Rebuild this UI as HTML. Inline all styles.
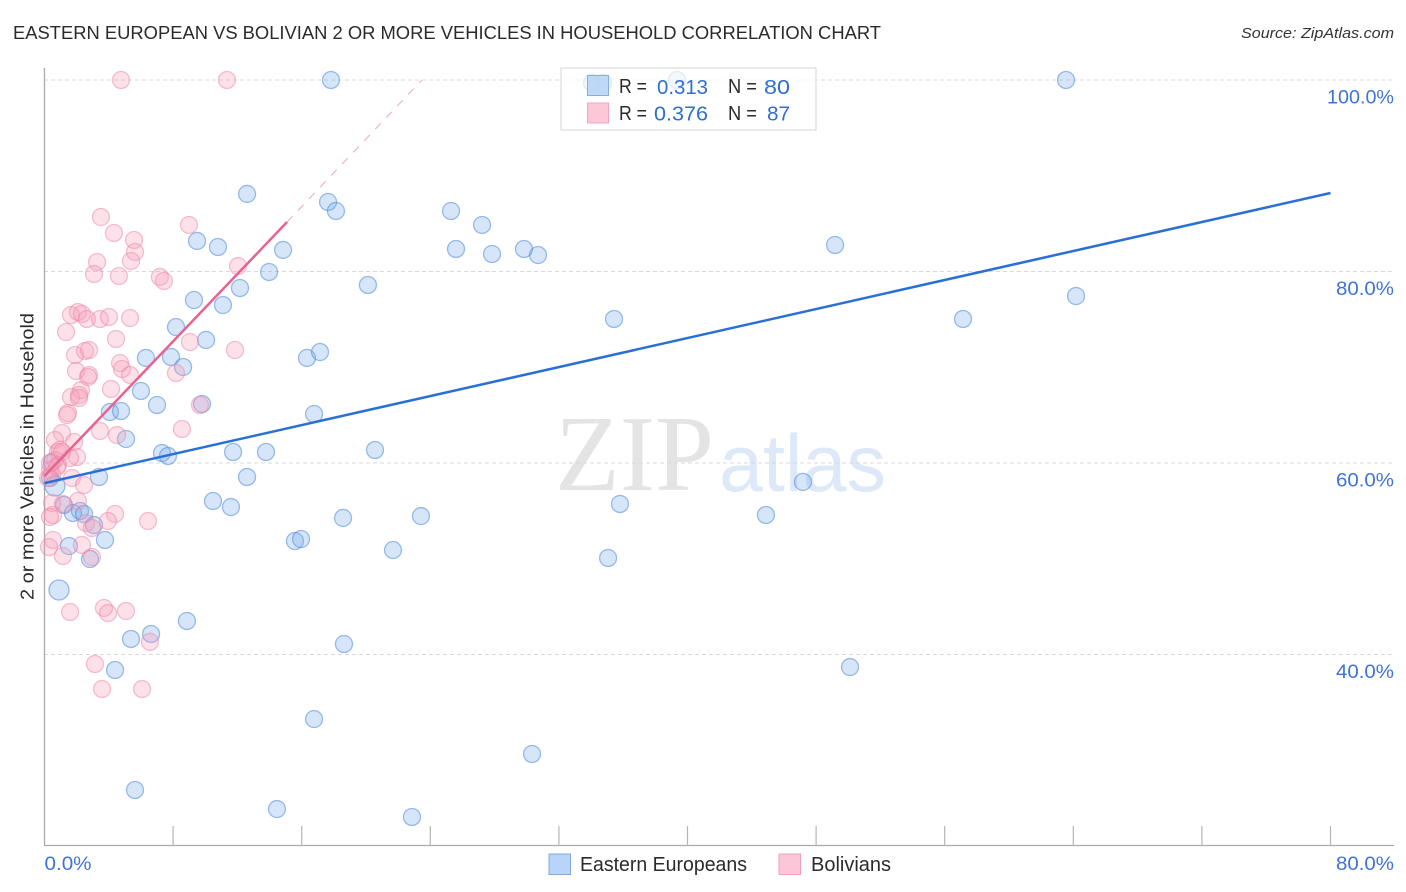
<!DOCTYPE html>
<html lang="en">
<head>
<meta charset="utf-8">
<title>Eastern European vs Bolivian 2 or more Vehicles in Household Correlation Chart</title>
<style>
html,body{margin:0;padding:0;background:#fff;width:1406px;height:892px;overflow:hidden}
svg{display:block;font-family:"Liberation Sans",sans-serif}
.tick{fill:#3f74d6;font-size:19px}
.leg{fill:#2b2b2b;font-size:20px}
.val{fill:#2f6ed2;font-size:20.5px}
</style>
</head>
<body>
<svg id="chart" width="1406" height="892" viewBox="0 0 1406 892" xmlns="http://www.w3.org/2000/svg">
  <text x="13" y="39" font-size="18.5" fill="#2b2b2b" textLength="868" lengthAdjust="spacingAndGlyphs">EASTERN EUROPEAN VS BOLIVIAN 2 OR MORE VEHICLES IN HOUSEHOLD CORRELATION CHART</text>
  <text x="1241" y="38" font-size="15" font-style="italic" fill="#333" textLength="153" lengthAdjust="spacingAndGlyphs">Source: ZipAtlas.com</text>

  <g>
    <text x="555" y="490" font-family="'Liberation Serif',serif" font-size="108" fill="#e4e4e4" textLength="159" lengthAdjust="spacingAndGlyphs">ZIP</text>
    <text x="719" y="491" font-size="81" fill="#dde8f8" textLength="167" lengthAdjust="spacingAndGlyphs">atlas</text>
  </g>

  <g id="grid"></g>
  <g id="axes">
    <line x1="44.5" y1="68" x2="44.5" y2="846" stroke="#aaa" stroke-width="1.3"/>
    <line x1="44" y1="845.5" x2="1394" y2="845.5" stroke="#aaa" stroke-width="1.3"/>
  </g>
  <g id="xticks"></g>
  <g id="points-blue"></g>
  <g id="points-pink"></g>
  <g id="trends"></g>
  <g id="ylabels"></g>
  <g id="xlabels"></g>

  <text transform="translate(33.5,600) rotate(-90)" font-size="18.5" fill="#2b2b2b" textLength="287" lengthAdjust="spacingAndGlyphs">2 or more Vehicles in Household</text>

  <g>
    <rect x="561" y="68" width="255" height="62" fill="#fff" fill-opacity="0.7" stroke="#ddd" stroke-width="1.2"/>
    <rect x="587.5" y="75.5" width="21" height="20" fill="#b5d2f6" fill-opacity="0.85" stroke="#86aee6"/>
    <rect x="587.5" y="103" width="21" height="20" fill="#fcc8d8" stroke="#f2a5bd"/>
    <text class="leg" x="619" y="93" textLength="28" lengthAdjust="spacingAndGlyphs">R =</text>
    <text class="val" x="657" y="94" textLength="51" lengthAdjust="spacingAndGlyphs">0.313</text>
    <text class="leg" x="728" y="93" textLength="29" lengthAdjust="spacingAndGlyphs">N =</text>
    <text class="val" x="764" y="94" textLength="26" lengthAdjust="spacingAndGlyphs">80</text>
    <text class="leg" x="619" y="120" textLength="28" lengthAdjust="spacingAndGlyphs">R =</text>
    <text class="val" x="654" y="120.5" textLength="54" lengthAdjust="spacingAndGlyphs">0.376</text>
    <text class="leg" x="728" y="120" textLength="29" lengthAdjust="spacingAndGlyphs">N =</text>
    <text class="val" x="767" y="120.5" textLength="23" lengthAdjust="spacingAndGlyphs">87</text>
  </g>

  <g>
    <rect x="549" y="854" width="21.5" height="20.5" fill="#b8d4f8" stroke="#7ea9e0"/>
    <text x="580" y="871" font-size="20" fill="#2b2b2b" textLength="167" lengthAdjust="spacingAndGlyphs">Eastern Europeans</text>
    <rect x="779" y="854" width="21.5" height="20.5" fill="#fdc6d8" stroke="#f0a2ba"/>
    <text x="811" y="871" font-size="20" fill="#2b2b2b" textLength="80" lengthAdjust="spacingAndGlyphs">Bolivians</text>
  </g>
</svg>
<script>
var blueX = [17.82,34.06,34.74,39.35,63.55,12.6,17.64,18.13,25.29,27.22,9.49,10.79,14.84,25.6,27.84,29.83,30.7,49.18,13.97,12.16,20.12,9.3,11.1,64.17,35.43,57.14,8.18,10.05,6.31,7.87,8.62,16.33,17.14,6.0,7.0,9.8,4.07,4.76,16.77,5.07,7.31,7.68,11.73,13.78,20.56,3.39,12.6,47.18,10.48,11.6,35.8,1.21,1.77,2.21,2.46,3.08,18.57,23.42,44.88,3.76,15.58,15.96,1.52,21.68,2.83,35.06,8.86,6.63,5.38,18.63,4.39,50.11,16.77,30.33,5.63,14.46,22.86,0.34,0.47];
var blueY = [100,99.7,99.7,100,100,88.1,87.26,86.32,86.32,84.86,83.19,82.56,82.25,82.35,81.83,82.35,81.72,82.77,79.95,78.28,78.59,77.02,76.5,77.44,75.04,75.04,74.2,72.85,70.97,71.07,70.03,70.97,71.59,67.52,66.06,66.16,65.33,65.43,65.12,62.51,61.04,60.73,61.15,61.15,61.36,58.54,58.54,58.02,56.03,55.4,55.72,55.61,54.78,54.99,54.67,53.52,54.26,54.46,54.57,51.96,51.85,52.06,51.33,50.91,49.97,50.08,43.5,42.14,41.62,41.1,38.38,38.69,33.26,29.61,25.85,23.86,23.03,58.43,60.1];
var blueLargeX = [0.9,0.65];
var blueLargeY = [46.74,57.6];
var pinkX = [4.76,11.35,3.51,8.99,4.32,5.57,5.63,5.38,3.27,3.08,4.63,12.04,7.18,7.43,1.65,2.08,2.33,2.64,3.45,4.01,5.32,1.34,4.45,9.05,11.85,1.9,2.52,2.77,4.7,4.82,5.32,1.96,2.77,2.71,4.14,8.18,2.27,1.65,2.15,2.15,9.67,1.46,1.4,3.45,4.51,8.55,1.09,0.65,1.84,0.84,2.02,1.59,0.96,1.09,0.65,0.84,0.34,0.47,0.22,0.78,0.34,1.71,2.46,2.08,1.15,0.47,0.53,0.34,4.39,6.44,3.95,2.58,2.95,0.53,0.28,2.33,1.15,2.95,3.7,3.95,5.07,1.59,3.14,3.58,6.07,6.56];
var pinkY = [100,100,85.69,84.86,84.02,83.29,82.04,81.1,80.99,79.74,79.53,80.57,79.43,79.01,75.46,75.77,75.56,75.04,75.04,75.25,75.14,73.68,72.95,72.64,71.8,71.28,71.7,71.8,70.44,69.82,69.19,69.61,69.19,68.98,67.73,69.4,67.62,66.89,67.1,66.79,66.06,65.22,65.01,63.34,62.92,63.55,63.13,62.4,62.19,61.15,60.63,60.52,61.36,61.15,60.31,59.79,59.27,58.75,58.43,59.58,60,58.43,57.7,56.03,55.72,55.82,54.57,54.36,54.67,53.94,53.94,53.73,53.21,51.96,51.23,51.44,50.29,50.18,44.86,44.33,44.54,44.44,39.01,36.4,36.4,41.31];
var blueTrendX = [0,80];
var blueTrendY = [57.9,88.2];
var pinkTrendX = [0,15.09];
var pinkTrendY = [58.64,85.17];
var pinkDashX = [15.09,23.48];
var pinkDashY = [85.17,100];
var gridValues = [100,80,60,40];
var yTickLabels = ["100.0%","80.0%","60.0%","40.0%"];
var xTickValues = [8,16,24,32,40,48,56,64,72,80];
var xEndValues = [0,80];
var xEndLabels = ["0.0%","80.0%"];

function sx(v){ return 44.5 + v * 16.075; }
function sy(v){ return 80 + (100 - v) * 9.575; }
var NS = 'http://www.w3.org/2000/svg';
function mk(tag, parentId, attrs){
  var el = document.createElementNS(NS, tag);
  for (var k in attrs) el.setAttribute(k, attrs[k]);
  document.getElementById(parentId).appendChild(el);
  return el;
}
function labelWidth(s){ return s.length === 6 ? 67 : (s.length === 5 ? 58 : 47); }
gridValues.forEach(function(v, i){
  var y = sy(v);
  var g = mk('line', 'grid', {x1:44, x2:1394, y1:y, y2:y, stroke:'#d9d9d9', 'stroke-width':1, 'stroke-dasharray':'4 3'});
  
  
  var w = labelWidth(yTickLabels[i]);
  var t = mk('text', 'ylabels', {x:1394 - w, y:y + 23.5, 'class':'tick', textLength:w, lengthAdjust:'spacingAndGlyphs'});
  t.textContent = yTickLabels[i];
  
  
});
xTickValues.forEach(function(v){
  var x = sx(v);
  var l = mk('line', 'xticks', {x1:x, x2:x, y1:826, y2:845.5, stroke:'#b5b5b5', 'stroke-width':1.2});
  
  
});
xEndValues.forEach(function(v, i){
  var w = labelWidth(xEndLabels[i]);
  var t = mk('text', 'xlabels', {x: i === 0 ? sx(v) : 1394 - w, y:870, 'class':'tick', textLength:w, lengthAdjust:'spacingAndGlyphs'});
  t.textContent = xEndLabels[i];
  
  
});
function blueDot(x, y, r){
  var c = mk('circle', 'points-blue', {cx:sx(x), cy:sy(y), r:r, fill:'#78ace9', 'fill-opacity':0.3, stroke:'#4f88da', 'stroke-opacity':0.55, 'stroke-width':1.3});
  
  
}
function pinkDot(x, y, r){
  var c = mk('circle', 'points-pink', {cx:sx(x), cy:sy(y), r:r, fill:'#f79ab5', 'fill-opacity':0.3, stroke:'#ec86a6', 'stroke-opacity':0.5, 'stroke-width':1.3});
  
  
}
blueX.forEach(function(x, i){ blueDot(x, blueY[i], 8.5); });
blueLargeX.forEach(function(x, i){ blueDot(x, blueLargeY[i], 10); });
pinkX.forEach(function(x, i){ pinkDot(x, pinkY[i], 8.5); });

var dash = mk('line', 'trends', {x1:sx(pinkDashX[0]), y1:sy(pinkDashY[0]), x2:sx(pinkDashX[1]), y2:sy(pinkDashY[1]), stroke:'#eba6bd', 'stroke-width':1, 'stroke-dasharray':'8 8'});


var pinkLine = mk('line', 'trends', {x1:sx(pinkTrendX[0]), y1:sy(pinkTrendY[0]), x2:sx(pinkTrendX[1]), y2:sy(pinkTrendY[1]), stroke:'#e8628f', 'stroke-width':2.5});


var blueLine = mk('line', 'trends', {x1:sx(blueTrendX[0]), y1:sy(blueTrendY[0]), x2:sx(blueTrendX[1]), y2:sy(blueTrendY[1]), stroke:'#2a6fd6', 'stroke-width':2.5});


</script>
</body>
</html>
